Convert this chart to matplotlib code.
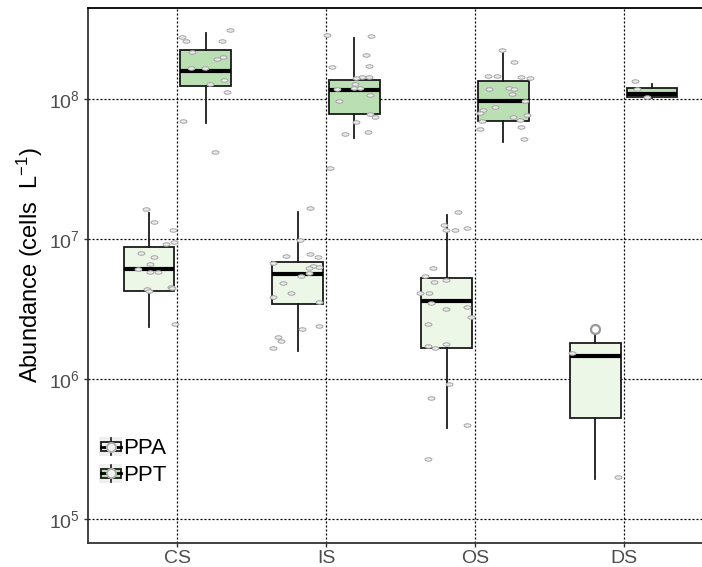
import numpy as np
import matplotlib
matplotlib.use("Agg")
import matplotlib.pyplot as plt
from matplotlib.patches import Rectangle
from matplotlib.lines import Line2D
from matplotlib.legend_handler import HandlerBase
from matplotlib.ticker import FixedLocator, FixedFormatter

plt.rcParams['font.family'] = ['Liberation Sans', 'DejaVu Sans']
plt.rcParams['mathtext.fontset'] = 'custom'
plt.rcParams['mathtext.rm'] = 'Liberation Sans'
plt.rcParams['mathtext.it'] = 'Liberation Sans'
plt.rcParams['mathtext.bf'] = 'Liberation Sans'

# ---------------- data ----------------
categories = ["CS", "IS", "OS", "DS"]
series = ["PPA", "PPT"]
series_colors = {"PPA": "#edf7e8", "PPT": "#badfb2"}

# box statistics
ppa_whislo = [2.37e6, 1.58e6, 4.45e5, 1.92e5]
ppa_q1     = [4.27e6, 3.41e6, 1.67e6, 5.24e5]
ppa_med    = [6.07e6, 5.62e6, 3.60e6, 1.46e6]
ppa_q3     = [8.80e6, 6.88e6, 5.30e6, 1.81e6]
ppa_whishi = [1.53e7, 1.57e7, 1.48e7, 2.08e6]
ppa_fliers = [[], [], [], [2.27e6]]

ppt_whislo = [6.7e7, 5.3e7, 4.9e7, 1.02e8]
ppt_q1     = [1.24e8, 7.8e7, 7.0e7, 1.04e8]
ppt_med    = [1.58e8, 1.16e8, 9.7e7, 1.08e8]
ppt_q3     = [2.24e8, 1.37e8, 1.35e8, 1.19e8]
ppt_whishi = [2.94e8, 2.71e8, 2.12e8, 1.27e8]
ppt_fliers = [[], [], [], []]

# jittered raw observations (values) and their horizontal jitter (category units)
ppa_cs_vals = [1.63e7, 1.33e7, 1.16e7, 9.6e6, 9.2e6, 8.0e6, 7.4e6, 6.6e6, 6.1e6, 5.8e6,
               5.8e6, 4.4e6, 4.25e6, 4.56e6, 4.45e6, 2.46e6]
ppa_cs_jit = [-0.020, 0.036, 0.159, 0.166, 0.114, -0.054, 0.036, 0.009, -0.076, 0.009,
              0.062, -0.013, 0.002, 0.148, 0.152, 0.174]
ppa_is_vals = [1.66e7, 9.84e6, 7.57e6, 7.78e6, 7.48e6, 6.7e6, 6.44e6, 6.34e6, 6.18e6, 5.7e6,
               5.47e6, 4.88e6, 4.1e6, 3.87e6, 3.53e6, 2.27e6, 2.39e6, 2.0e6, 1.87e6, 1.67e6]
ppa_is_jit = [0.085, 0.013, -0.081, 0.085, 0.136, -0.166, 0.103, 0.143, 0.076, 0.076,
              0.020, -0.099, -0.047, -0.170, 0.141, 0.025, 0.143, -0.132, -0.116, -0.170]
ppa_os_vals = [1.55e7, 1.26e7, 1.16e7, 1.16e7, 1.19e7, 6.18e6, 5.47e6, 4.95e6, 5.1e6, 4.11e6,
               4.1e6, 3.48e6, 3.15e6, 3.25e6, 2.79e6, 2.46e6, 1.72e6, 1.67e6, 1.77e6, 9.2e5,
               7.35e5, 4.69e5, 2.67e5]
ppa_os_jit = [0.077, -0.021, -0.001, 0.055, 0.140, -0.089, -0.144, -0.084, -0.005, -0.180,
              -0.117, -0.106, -0.001, 0.140, 0.166, -0.122, -0.122, -0.077, -0.001, 0.017,
              -0.106, 0.140, -0.122]
ppa_ds_vals = [1.53e6, 1.99e5]
ppa_ds_jit = [-0.159, 0.154]

ppt_cs_vals = [3.11e8, 2.79e8, 2.6e8, 2.6e8, 2.18e8, 1.93e8, 2.0e8, 1.66e8, 1.66e8, 1.27e8,
               1.36e8, 1.13e8, 7.0e7, 4.2e7]
ppt_cs_jit = [0.163, -0.156, -0.134, 0.112, -0.089, 0.074, 0.119, -0.101, -0.007, 0.029,
              0.123, 0.146, -0.150, 0.062]
ppt_is_vals = [2.87e8, 2.82e8, 2.06e8, 1.73e8, 1.70e8, 1.44e8, 1.44e8, 1.41e8, 1.29e8, 1.2e8,
               1.2e8, 1.17e8, 1.07e8, 9.7e7, 7.76e7, 7.4e7, 6.8e7, 5.8e7, 5.6e7, 3.2e7]
ppt_is_jit = [-0.183, 0.112, 0.079, 0.096, -0.150, 0.052, 0.096, 0.013, 0.007, -0.005,
              0.040, -0.116, 0.107, -0.101, 0.107, 0.141, 0.013, 0.089, -0.060, -0.166]
ppt_os_vals = [2.24e8, 1.85e8, 1.46e8, 1.46e8, 1.44e8, 1.41e8, 1.17e8, 1.19e8, 1.17e8, 1.08e8,
               9.7e7, 8.7e7, 8.3e7, 7.9e7, 7.5e7, 7.7e7, 7.1e7, 7.0e7, 6.3e7, 6.07e7, 5.2e7]
ppt_os_jit = [-0.009, 0.074, -0.105, -0.042, 0.121, 0.181, -0.092, 0.036, 0.074, 0.058,
              0.148, -0.054, -0.136, -0.154, 0.069, 0.159, 0.114, -0.143, 0.121, -0.154, 0.141]
ppt_ds_vals = [1.34e8, 1.17e8, 1.04e8]
ppt_ds_jit = [-0.113, -0.102, -0.035]

yticks = [1e5, 1e6, 1e7, 1e8]
ytick_labels = ["$10^{5}$", "$10^{6}$", "$10^{7}$", "$10^{8}$"]
ylabel = "Abundance (cells  L$^{-1}$)"

# ---------------- plot ----------------
W, H = 702, 567
fig = plt.figure(figsize=(W / 100, H / 100), dpi=100)
ax_left, ax_right, ax_top, ax_bot = 88, 713, 8, 543
ax = fig.add_axes([ax_left / W, 1 - ax_bot / H, (ax_right - ax_left) / W, (ax_bot - ax_top) / H])
ax.set_yscale('log')
ax.set_xlim(-0.6, 3.6)
ax.set_ylim(10 ** 4.829, 10 ** 8.65)

dodge = {"PPA": -0.19, "PPT": 0.19}
box_w = 0.342

stats = {
    "PPA": (ppa_whislo, ppa_q1, ppa_med, ppa_q3, ppa_whishi, ppa_fliers),
    "PPT": (ppt_whislo, ppt_q1, ppt_med, ppt_q3, ppt_whishi, ppt_fliers),
}
for s in series:
    wl, q1, md, q3, wh, fl = stats[s]
    bxs = []
    for i in range(len(categories)):
        bxs.append(dict(whislo=wl[i], q1=q1[i], med=md[i], q3=q3[i], whishi=wh[i], fliers=fl[i]))
    pos = [i + dodge[s] for i in range(len(categories))]
    ax.bxp(bxs, positions=pos, widths=box_w, patch_artist=True, showcaps=False,
           boxprops=dict(facecolor=series_colors[s], edgecolor='#1a1a1a', linewidth=1.3),
           medianprops=dict(color='black', linewidth=3.0, solid_capstyle='butt'),
           whiskerprops=dict(color='#1a1a1a', linewidth=1.3),
           flierprops=dict(marker='o', markersize=6.5, markerfacecolor='none',
                           markeredgecolor='#999999', markeredgewidth=1.6),
           zorder=3, manage_ticks=False)

t = np.linspace(0, 2 * np.pi, 40)
ell = np.column_stack([np.cos(t), 0.5 * np.sin(t)])
pts = {
    "PPA": [(ppa_cs_vals, ppa_cs_jit), (ppa_is_vals, ppa_is_jit), (ppa_os_vals, ppa_os_jit), (ppa_ds_vals, ppa_ds_jit)],
    "PPT": [(ppt_cs_vals, ppt_cs_jit), (ppt_is_vals, ppt_is_jit), (ppt_os_vals, ppt_os_jit), (ppt_ds_vals, ppt_ds_jit)],
}
for s in series:
    for i, (vals, jit) in enumerate(pts[s]):
        xs = [i + dodge[s] + j for j in jit]
        ax.plot(xs, vals, ls='none', marker=ell, ms=5, mfc='#ececec', mec='#a3a3a3', mew=0.7, zorder=5)

# grid
ax.set_xticks(range(len(categories)))
ax.set_xticklabels(categories)
ax.yaxis.set_major_locator(FixedLocator(yticks))
ax.yaxis.set_major_formatter(FixedFormatter(ytick_labels))
ax.yaxis.set_minor_locator(FixedLocator([]))
ax.grid(True, which='major', color='black', linestyle=(0, (1.6, 1.6)), linewidth=0.9, zorder=0)
ax.set_axisbelow(True)

ax.tick_params(axis='both', colors='#333333', labelcolor='#4d4d4d', labelsize=14, length=3, width=1)
ax.tick_params(axis='x', pad=2)
ax.tick_params(axis='y', pad=3)
for sp in ['left', 'bottom']:
    ax.spines[sp].set_color('#333333')
    ax.spines[sp].set_linewidth(1.3)
ax.spines['top'].set_color('black')
ax.spines['top'].set_linewidth(1.3)
ax.spines['right'].set_visible(False)

ax.set_ylabel(ylabel, fontsize=17, color='black')
ax.yaxis.set_label_coords(-0.068, 0.52)


class BoxHandler(HandlerBase):
    def create_artists(self, legend, orig_handle, xdescent, ydescent, width, height, fontsize, trans):
        fc = orig_handle.get_facecolor()
        x0, y0 = -xdescent, -ydescent
        bg = Rectangle((x0, y0), width, height, facecolor='#efefef',
                       edgecolor='none', transform=trans)
        cx = x0 + width / 2
        cy = y0 + height * 0.5
        vline = Line2D([cx, cx], [y0 + 0.05 * height, y0 + 0.95 * height], color='#1a1a1a', lw=1.2, transform=trans)
        bw, bh = width * 0.86, height * 0.48
        box = Rectangle((cx - bw / 2, cy - bh / 2), bw, bh, facecolor=fc, edgecolor='#1a1a1a',
                        lw=1.3, transform=trans)
        med = Line2D([cx - bw / 2, cx + bw / 2], [cy, cy], color='black', lw=2.0, transform=trans)
        circ = Line2D([cx], [cy], marker='o', ms=6.5, mfc='#f2f2f2', mec='#b0b0b0', mew=1.4,
                      transform=trans)
        return [bg, vline, box, med, circ]


handles = [Rectangle((0, 0), 1, 1, facecolor=series_colors[s]) for s in series]
leg = ax.legend(handles, series, loc='upper left', bbox_to_anchor=(99 / W, 1 - 437 / H),
                bbox_transform=fig.transFigure, frameon=False, fontsize=16,
                handler_map={Rectangle: BoxHandler()}, handlelength=1.05, handleheight=0.95,
                handletextpad=0.05, labelspacing=0.2, borderpad=0, borderaxespad=0)
leg.set_zorder(10)

fig.savefig("out.png", dpi=100)
